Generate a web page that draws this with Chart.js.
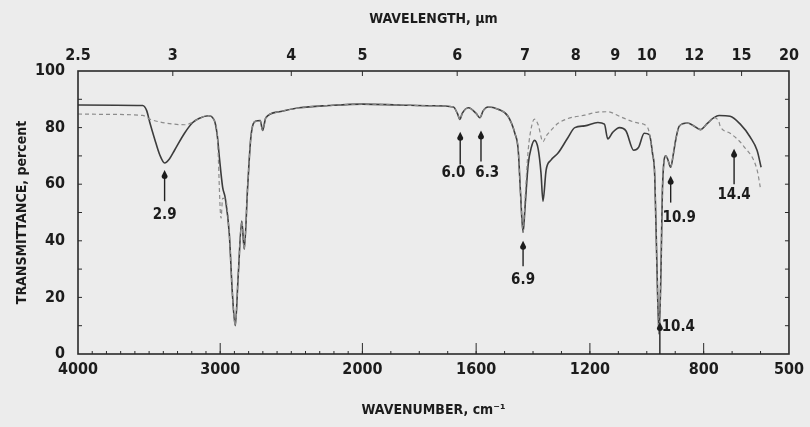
<!DOCTYPE html>
<html><head><meta charset="utf-8">
<script src="https://cdn.jsdelivr.net/npm/chart.js@4"></script>
<style>html,body{margin:0;padding:0;background:#ececec;overflow:hidden}</style>
</head><body>
<canvas id="c" width="810" height="427"></canvas>
<script>
// ---- data ----
const sampleWavenumber = [4000,3545,3517,3496,3461,3426,3391,3356,3321,3251,3195,3146,3083,3041,3020,3006,2983,2964,2936,2915,2894,2873,2848,2831,2807,2784,2749,2718,2702,2679,2585,2445,2235,2000,1873,1757,1680,1666,1657,1649,1627,1600,1587,1575,1558,1523,1488,1464,1452,1444,1435,1428,1417,1406,1395,1382,1372,1365,1354,1337,1312,1277,1253,1218,1172,1149,1137,1120,1096,1073,1046,1029,1009,991,980,972,965,957,950,945,933,927,916,906,898,886,857,833,812,787,764,746,707,672,636,612,598];
const sampleTransmittance = [88,87.8,86,82,76,70.5,67.5,69,72,78,81.7,83.3,84.2,82.5,77,69.6,59,55,42.5,22,10,28,47,37,59,76.7,82.3,82.5,79,83.5,85.6,87,87.8,88.3,88,87.7,87.3,85,82.9,85,87,85,83.5,86,87.3,86.5,84,78,72,57,43,52,67,73,75.5,72.5,64,54,65,68.5,71,76.5,80,80.6,81.8,81.2,76,78.3,80,78.8,72,73,78,77.5,71,63,34,7,30,58,70,69,66,71,75.8,80.5,81.6,80.5,79.3,81.5,83.5,84.3,84,81.3,76.6,71.9,66];
const referenceWavenumber = [4000,3846,3545,3496,3426,3321,3251,3195,3146,3083,3041,3020,2994,2983,2964,2936,2915,2894,2873,2848,2831,2807,2784,2749,2718,2702,2679,2585,2445,2235,2000,1873,1757,1680,1666,1657,1649,1627,1600,1587,1575,1558,1523,1488,1464,1452,1444,1435,1428,1417,1406,1395,1382,1365,1354,1337,1312,1277,1218,1172,1137,1096,1073,1046,1029,997,980,972,965,957,950,945,933,927,916,906,898,886,857,833,812,787,764,746,742,707,659,612,601];
const referenceTransmittance = [84.8,84.7,84.3,83,82,81.2,81,81.8,83.3,84.2,82.5,77,48,55,55,42.5,22,10,28,47,37,59,76.7,82.3,82.5,79,83.5,85.6,87,87.8,88.3,88,87.7,87.3,85,82.9,85,87,85,83.5,86,87.3,86.5,84,78,72,57,43,55,72,80,83,81,75,77,79,81.5,83.2,84.4,85.5,85.6,84,83,82,81.6,80,71,63,34,7,30,58,70,69,66,71,75.8,80.5,81.6,80.5,79.3,81.5,83.5,82,80.5,78,73.4,65,59];
const wavenumberTicks = [4000,3000,2000,1600,1200,800,500];
const wavelengthTicks = [2.5,3,4,5,6,7,8,9,10,12,15,20];
const transmittanceTicks = [0,20,40,60,80,100];
const bandLabels = ['2.9','6.0','6.3','6.9','10.9','10.4','14.4'];
const bandWavenumber = [3391,1656,1583,1435,916,954,693];
const bandArrowTip = [65,78.5,79,40,63,11.3,72.5];
const bandArrowTail = [54,67,68,31,53.5,0,60];
const bandLabelWavenumber = [3391,1680,1561,1435,886,889,693];
const bandLabelTransmittance = [49,64,64,26,48,9.4,56];

// piecewise wavenumber axis: 4000-2000 at half the scale of 2000-500
function toU(wn){ return wn >= 2000 ? (4000 - wn) / 2 : 1000 + (2000 - wn); }
function fromU(u){ return u <= 1000 ? 4000 - 2 * u : 2000 - (u - 1000); }

const FONT = '"Liberation Sans Narrow","DejaVu Sans Condensed","Liberation Sans",sans-serif';
const INK = '#1c1c1c';

const pts = (xs, ys) => xs.map((w, i) => ({x: toU(w), y: ys[i]}));

const decor = {
  id: 'decor',
  afterDraw(chart) {
    const ctx = chart.ctx, a = chart.chartArea;
    const xs = chart.scales.x, ys = chart.scales.y;
    ctx.save();
    ctx.strokeStyle = '#2a2a2a';
    ctx.lineWidth = 1.6;
    ctx.strokeRect(a.left, a.top, a.right - a.left, a.bottom - a.top);
    ctx.lineWidth = 1;
    ctx.beginPath();
    for (let t = 10; t < 100; t += 10) {
      const y = ys.getPixelForValue(t);
      ctx.moveTo(a.left, y); ctx.lineTo(a.left + 4, y);
      ctx.moveTo(a.right, y); ctx.lineTo(a.right - 4, y);
    }
    for (let w = 3900; w > 500; w -= 100) {
      const x = xs.getPixelForValue(toU(w));
      ctx.moveTo(x, a.bottom); ctx.lineTo(x, a.bottom - 3);
    }
    wavenumberTicks.slice(1, -1).forEach(w => {
      const x = xs.getPixelForValue(toU(w));
      ctx.moveTo(x, a.bottom); ctx.lineTo(x, a.bottom - 11);
    });
    wavelengthTicks.slice(1, -1).forEach(l => {
      const x = xs.getPixelForValue(toU(1e4 / l));
      ctx.moveTo(x, a.top); ctx.lineTo(x, a.top + 5);
    });
    ctx.stroke();
    // band annotations
    ctx.strokeStyle = '#222'; ctx.fillStyle = INK; ctx.lineWidth = 1.4;
    ctx.font = 'bold 15px ' + FONT;
    ctx.textAlign = 'center'; ctx.textBaseline = 'middle';
    bandLabels.forEach((lab, i) => {
      const x = xs.getPixelForValue(toU(bandWavenumber[i]));
      const yt = ys.getPixelForValue(bandArrowTip[i]);
      const yb = ys.getPixelForValue(bandArrowTail[i]);
      ctx.beginPath(); ctx.moveTo(x, yt + 4); ctx.lineTo(x, yb); ctx.stroke();
      ctx.beginPath(); ctx.moveTo(x, yt); ctx.lineTo(x - 3, yt + 6); ctx.arc(x, yt + 6, 3, Math.PI, 0, true); ctx.closePath(); ctx.fill();
      ctx.fillText(lab, xs.getPixelForValue(toU(bandLabelWavenumber[i])), ys.getPixelForValue(bandLabelTransmittance[i]));
    });
    ctx.restore();
  }
};

new Chart(document.getElementById('c'), {
  type: 'line',
  data: {
    datasets: [
      { label: 'reference', data: pts(referenceWavenumber, referenceTransmittance), borderColor: '#8c8c8c', borderWidth: 1.2, borderDash: [4, 3], pointRadius: 0, cubicInterpolationMode: 'monotone', fill: false },
      { label: 'sample', data: pts(sampleWavenumber, sampleTransmittance), borderColor: '#3c3c3c', borderWidth: 1.6, pointRadius: 0, cubicInterpolationMode: 'monotone', fill: false }
    ]
  },
  options: {
    responsive: false, animation: false, devicePixelRatio: 1,
    layout: { padding: { left: 0, right: 18, top: 0, bottom: 0 } },
    plugins: { legend: { display: false }, tooltip: { enabled: false } },
    scales: {
      x: {
        type: 'linear', position: 'bottom', min: 0, max: 2500,
        grid: { display: false, drawTicks: false }, border: { display: false },
        afterBuildTicks: s => { s.ticks = wavenumberTicks.map(w => ({ value: toU(w) })); },
        afterFit: s => { s.height = 73; },
        ticks: { autoSkip: false, maxRotation: 0, padding: 6, color: INK, font: { family: FONT, size: 16, weight: 'bold' },
          callback: v => String(Math.round(fromU(v))) },
        title: { display: true, text: 'WAVENUMBER, cm⁻¹', color: INK, font: { family: FONT, size: 14, weight: 'bold' }, padding: { top: 0, bottom: 8 } }
      },
      x2: {
        type: 'linear', position: 'top', min: 0, max: 2500,
        grid: { display: false, drawTicks: false }, border: { display: false },
        afterBuildTicks: s => { s.ticks = wavelengthTicks.map(l => ({ value: toU(1e4 / l) })); },
        afterFit: s => { s.height = 71; },
        ticks: { autoSkip: false, maxRotation: 0, padding: 6, color: INK, font: { family: FONT, size: 16, weight: 'bold' },
          callback: (v, i) => String(wavelengthTicks[i]) },
        title: { display: true, text: 'WAVELENGTH, µm', color: INK, font: { family: FONT, size: 14, weight: 'bold' }, padding: { top: 11, bottom: 0 } }
      },
      y: {
        type: 'linear', min: 0, max: 100,
        grid: { display: false, drawTicks: false }, border: { display: false },
        afterBuildTicks: s => { s.ticks = transmittanceTicks.map(t => ({ value: t })); },
        afterFit: s => { s.width = 78; },
        ticks: { padding: 13, color: INK, font: { family: FONT, size: 16, weight: 'bold' } },
        title: { display: true, text: 'TRANSMITTANCE, percent', color: INK, font: { family: FONT, size: 14, weight: 'bold' }, padding: { top: 14, bottom: 0 } }
      }
    }
  },
  plugins: [decor]
});
</script>
</body></html>
